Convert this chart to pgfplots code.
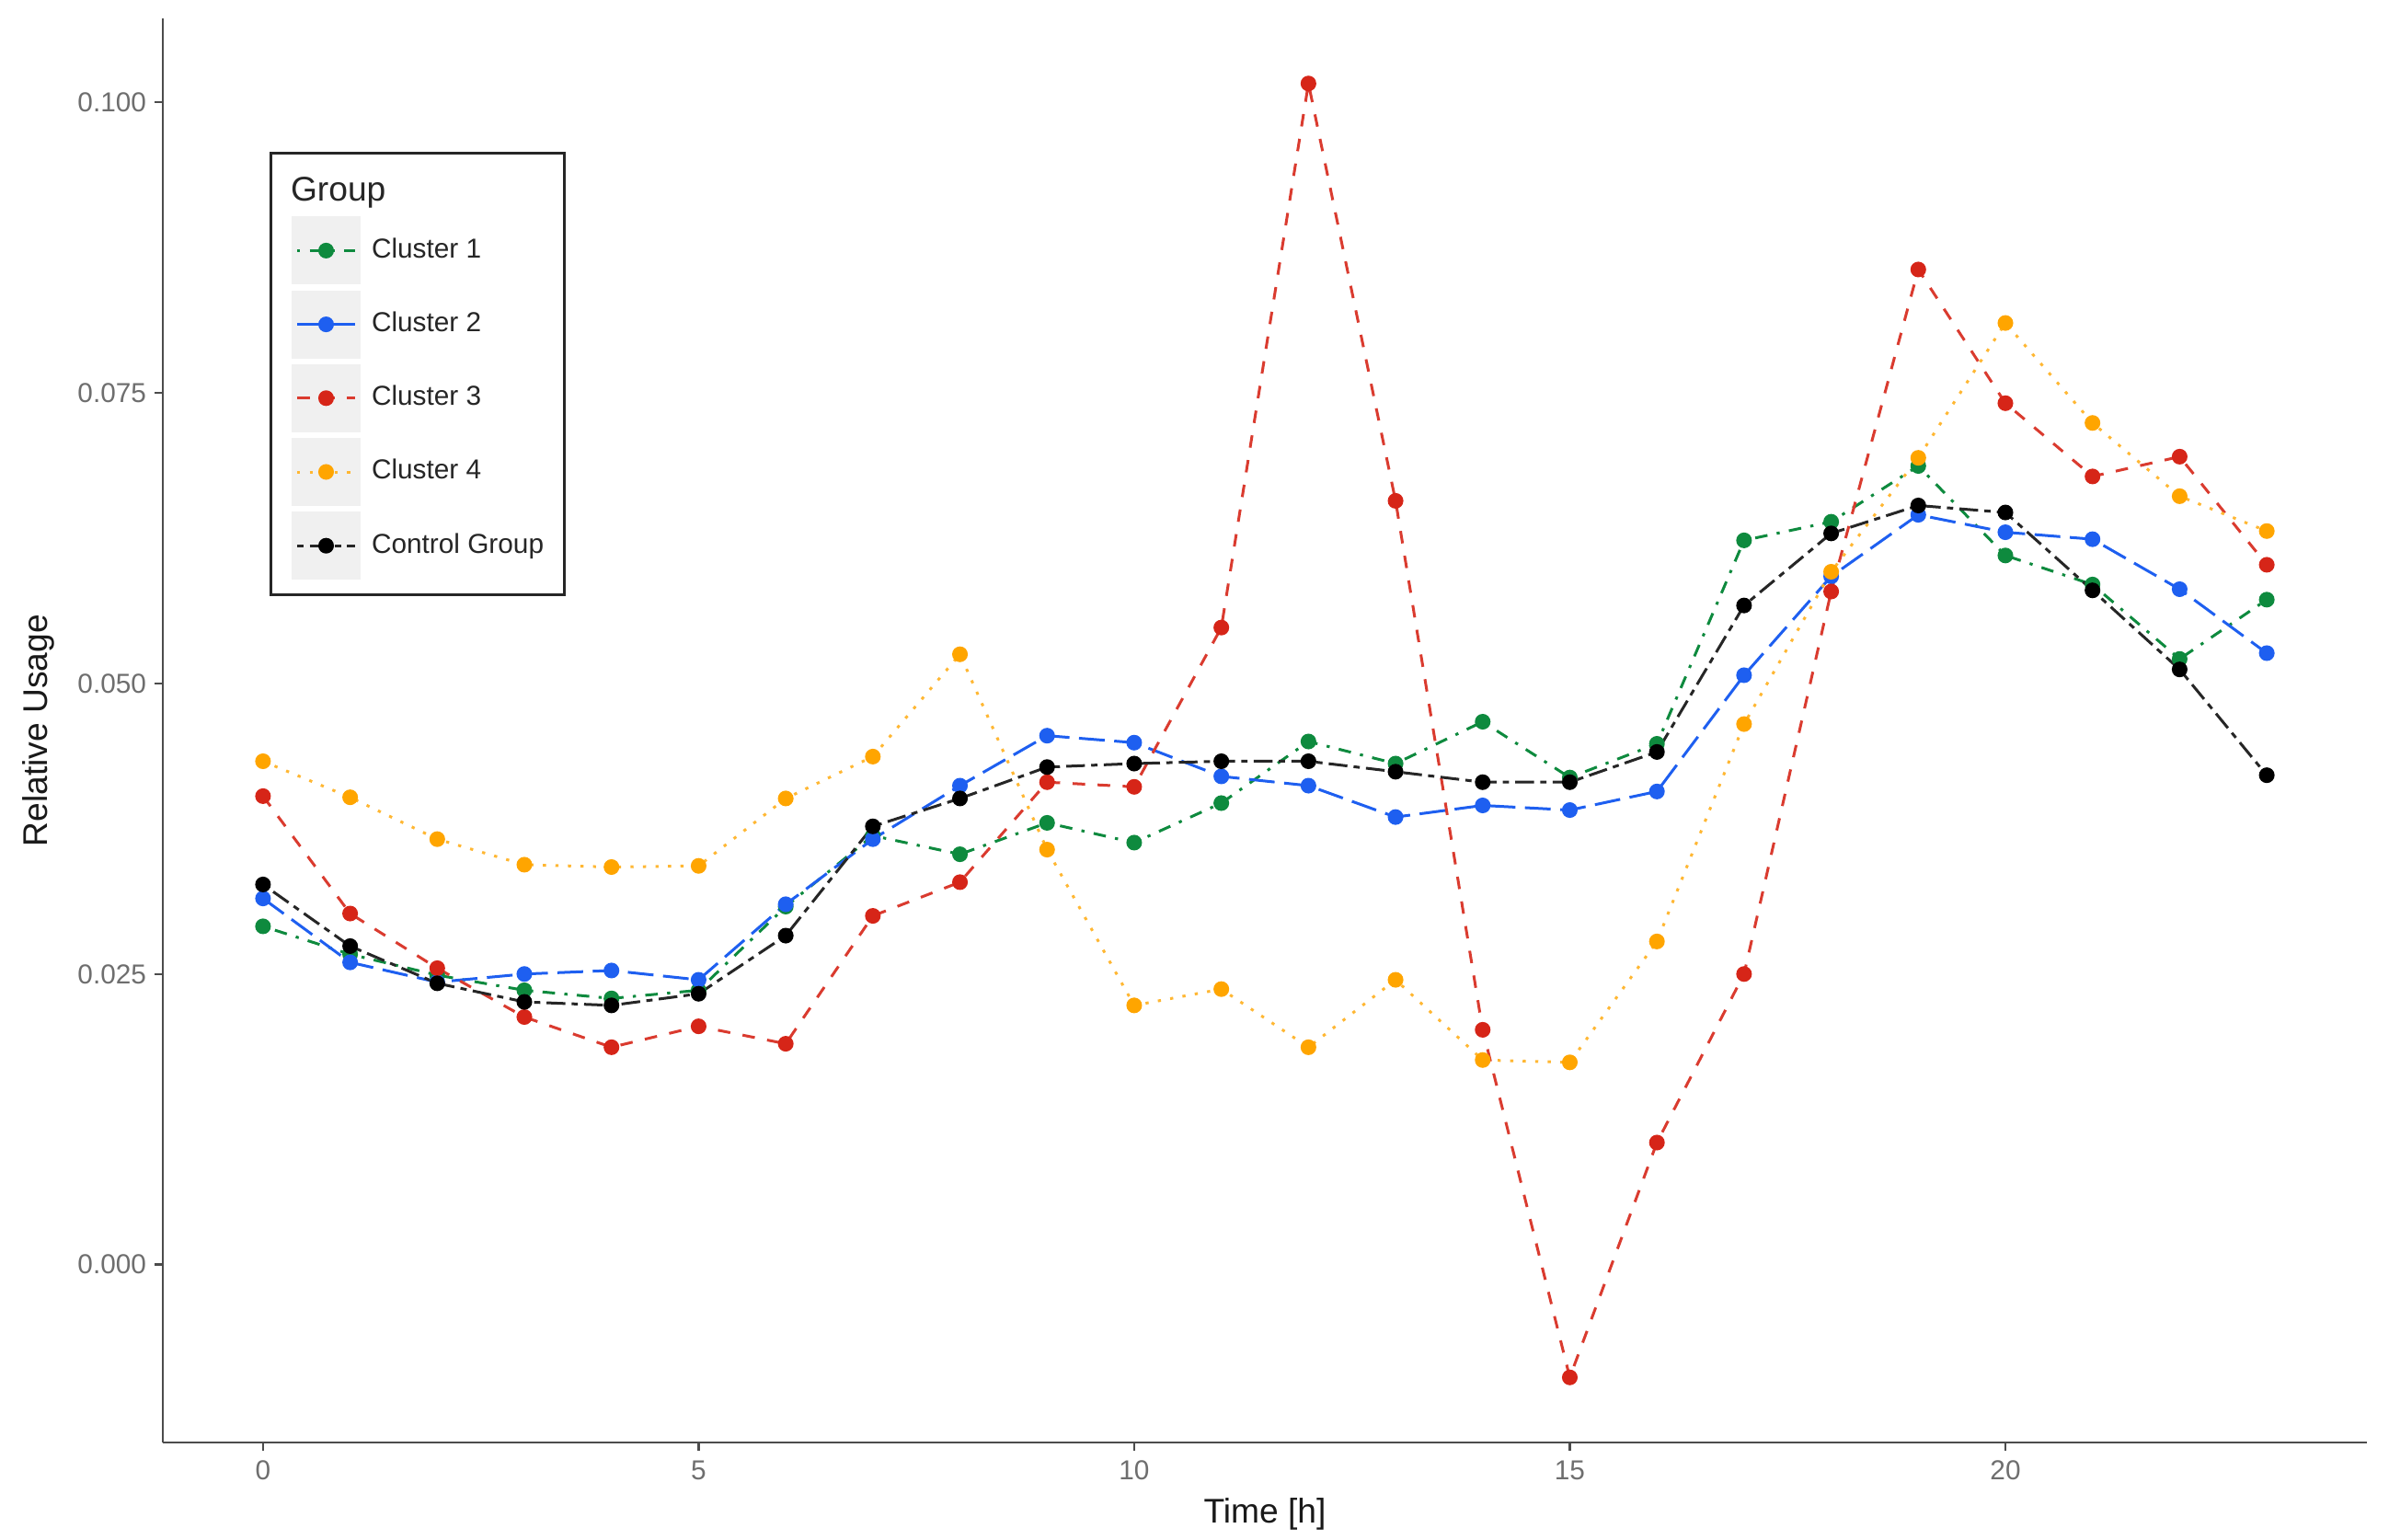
\documentclass[border=0pt]{standalone}
\usepackage{fontspec}
\setmainfont{Liberation Sans}
\usepackage{pgfplots}
\usepackage{pgfplotstable}
\pgfplotsset{compat=1.18}
\definecolor{cgreen}{HTML}{0E8A3E}
\definecolor{cblue}{HTML}{1E5FF0}
\definecolor{cred}{HTML}{D62518}
\definecolor{corange}{HTML}{FFA500}
\definecolor{tickgray}{HTML}{6E6E6E}

\pgfplotstableread{
h  c1     c2     c3      c4     cg
0  0.0291 0.0315 0.0403  0.0433 0.0327
1  0.0267 0.0260 0.0302  0.0402 0.0274
2  0.0249 0.0243 0.0255  0.0366 0.0242
3  0.0236 0.0250 0.0213  0.0344 0.0226
4  0.0229 0.0253 0.0187  0.0342 0.0223
5  0.0236 0.0245 0.0205  0.0343 0.0233
6  0.0308 0.0310 0.0190  0.0401 0.0283
7  0.0369 0.0366 0.0300  0.0437 0.0377
8  0.0353 0.0412 0.0329  0.0525 0.0401
9  0.0380 0.0455 0.0415  0.0357 0.0428
10 0.0363 0.0449 0.0411  0.0223 0.0431
11 0.0397 0.0420 0.0548  0.0237 0.0433
12 0.0450 0.0412 0.1016  0.0187 0.0433
13 0.0431 0.0385 0.0657  0.0245 0.0424
14 0.0467 0.0395 0.0202  0.0176 0.0415
15 0.0419 0.0391 -0.0097 0.0174 0.0415
16 0.0448 0.0407 0.0105  0.0278 0.0441
17 0.0623 0.0507 0.0250  0.0465 0.0567
18 0.0639 0.0592 0.0579  0.0596 0.0629
19 0.0687 0.0645 0.0856  0.0694 0.0653
20 0.0610 0.0630 0.0741  0.0810 0.0647
21 0.0585 0.0624 0.0678  0.0724 0.0580
22 0.0521 0.0581 0.0695  0.0661 0.0512
23 0.0572 0.0526 0.0602  0.0631 0.0421
}\datatable

\begin{document}
\begin{tikzpicture}
\begin{axis}[
  name=ax,
  scale only axis,
  width=599pt, height=387pt,
  xmin=-1.15, xmax=24.15,
  ymin=-0.0153, ymax=0.1072,
  axis x line*=bottom, axis y line*=left,
  axis line style={black!70, line width=0.6pt},
  tick align=outside,
  major tick length=2.2pt,
  tick style={black!70, line width=0.6pt},
  xtick={0,5,10,15,20},
  xticklabels={0,5,10,15,20},
  ytick={0,0.025,0.05,0.075,0.1},
  yticklabels={0.000,0.025,0.050,0.075,0.100},
  ticklabel style={font=\fontsize{7.45}{9}\selectfont, text=tickgray},
  xticklabel style={yshift=0.75pt},
  yticklabel style={xshift=1.25pt},
  /pgf/number format/assume math mode=true,
  xlabel={Time [h]},
  ylabel={Relative Usage},
  label style={font=\fontsize{9.3}{11}\selectfont, text=black!90},
  x label style={at={(axis description cs:0.5,0)}, anchor=center, yshift=-19.5pt},
  y label style={at={(axis description cs:0,0.5)}, anchor=center, yshift=33.75pt},
  legend cell align=left,
  legend style={at={(axis description cs:0,1)}, xshift=29pt, yshift=-36.25pt,
    anchor=north west, draw=black!85, line width=0.8pt,
    inner xsep=5.6pt, inner ysep=4.05pt, row sep=1.55pt, column sep=3pt,
    nodes={inner sep=0pt, font=\fontsize{7.45}{9}\selectfont, text=black!85}},
  legend image code/.code={
    \fill[black!6, draw=none] (0pt,-9.25pt) rectangle (18.75pt,9.25pt);
    \draw[mark repeat=2, mark phase=2, #1] plot coordinates {(1.5pt,0pt) (9.375pt,0pt) (17.25pt,0pt)};
  },
]
\addlegendimage{empty legend}
\addlegendentry{\hspace*{-22pt}\fontsize{9.3}{11}\selectfont\rule[-5.65pt]{0pt}{15.75pt}\raisebox{1.3pt}{Group}}

\addplot[cgreen, line width=0.75pt, dash pattern=on 0.85pt off 2.55pt on 3.4pt off 2.55pt,
  mark=*, mark size=1.75pt, mark options={solid, draw=cgreen, fill=cgreen}]
  table[x=h, y=c1]{\datatable};
\addlegendentry{Cluster 1}
\addplot[cblue, line width=0.75pt, dash pattern=on 7pt off 2.6pt,
  mark=*, mark size=1.75pt, mark options={solid, draw=cblue, fill=cblue}]
  table[x=h, y=c2]{\datatable};
\addlegendentry{Cluster 2}
\addplot[cred!90, line width=0.75pt, dash pattern=on 3.4pt off 3.4pt,
  mark=*, mark size=1.75pt, mark options={solid, draw=cred, fill=cred}]
  table[x=h, y=c3]{\datatable};
\addlegendentry{Cluster 3}
\addplot[corange!80, line width=0.75pt, dash pattern=on 0.85pt off 2.55pt,
  mark=*, mark size=1.75pt, mark options={solid, draw=corange, fill=corange}]
  table[x=h, y=c4]{\datatable};
\addlegendentry{Cluster 4}
\addplot[black!85, line width=0.75pt, dash pattern=on 1.7pt off 1.7pt on 5.1pt off 1.7pt,
  mark=*, mark size=1.75pt, mark options={solid, draw=black, fill=black}]
  table[x=h, y=cg]{\datatable};
\addlegendentry{Control Group}
\end{axis}
\pgfresetboundingbox
\path ([shift={(-44.25pt,-26.25pt)}]ax.south west) rectangle ([shift={(6pt,5pt)}]ax.north east);
\end{tikzpicture}
\end{document}
